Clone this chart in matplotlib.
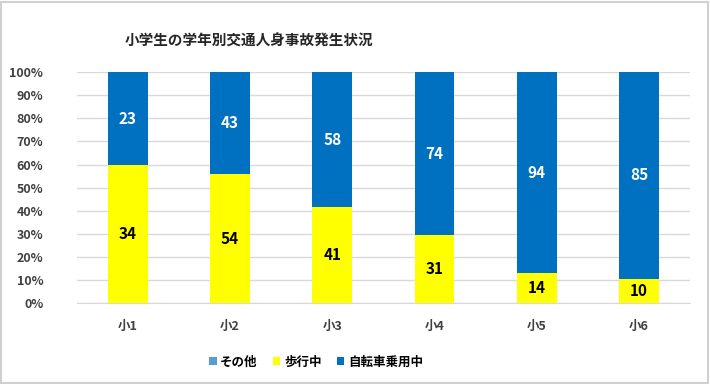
import numpy as np
import matplotlib
matplotlib.use("Agg")
import matplotlib.pyplot as plt
from matplotlib.patches import Rectangle
from matplotlib.ticker import PercentFormatter

plt.rcParams['font.family'] = ['Noto Sans CJK JP', 'DejaVu Sans']

# data
grades = ['小1', '小2', '小3', '小4', '小5', '小6']
other = [0, 0, 0, 0, 0, 0]
walking = [34, 54, 41, 31, 14, 10]
cycling = [23, 43, 58, 74, 94, 85]

series_names = ['その他', '歩行中', '自転車乗用中']
colors = ['#5B9BD5', '#FFFF00', '#0070C0']
label_colors = ['white', 'black', 'white']

fig = plt.figure(figsize=(7.1, 3.84), dpi=100)
ax = fig.add_axes([0.108, 0.211, 0.864, 0.601])

values = np.array([other, walking, cycling], dtype=float)
totals = values.sum(axis=0)
shares = values / totals

x = np.arange(len(grades))
bottom = np.zeros(len(grades))
handles = []
for i, name in enumerate(series_names):
    bars = ax.bar(x, shares[i], 0.39, bottom=bottom, color=colors[i],
                  label=name, zorder=3)
    handles.append(bars)
    for j in range(len(grades)):
        if values[i][j] > 0:
            ax.text(x[j], bottom[j] + shares[i][j] / 2, f'{int(values[i][j])}',
                    ha='center', va='center', fontsize=11, fontweight='bold',
                    color=label_colors[i], zorder=4)
    bottom += shares[i]

ax.set_ylim(0, 1)
ax.set_xlim(-0.5, len(grades) - 0.5)
ax.set_yticks(np.arange(0, 1.01, 0.1))
ax.yaxis.set_major_formatter(PercentFormatter(1.0, decimals=0))
ax.set_xticks(x)
ax.set_xticklabels(grades)
ax.grid(axis='y', color='#d9d9d9', linewidth=1, zorder=0)
for s in ['top', 'right', 'left']:
    ax.spines[s].set_visible(False)
ax.spines['bottom'].set_color('#d9d9d9')
ax.tick_params(axis='both', length=0, labelsize=9, colors='#404040')
ax.tick_params(axis='x', pad=12)
ax.tick_params(axis='y', pad=24)
for lab in ax.get_xticklabels() + ax.get_yticklabels():
    lab.set_fontweight('bold')

fig.text(0.351, 0.893, '小学生の学年別交通人身事故発生状況', ha='center', va='center',
         fontsize=10.5, fontweight='bold', color='#262626')

fig.legend(handles=handles, labels=series_names, loc='center',
           bbox_to_anchor=(0.445, 0.057), ncol=3, frameon=False,
           handlelength=0.6, handleheight=0.6, handletextpad=0.3,
           columnspacing=1.2, prop={'size': 9, 'weight': 'bold'})

fig.patches.append(Rectangle((0.002, 0.003), 0.995, 0.993, transform=fig.transFigure,
                             fill=False, edgecolor='#d0d0d0', linewidth=1.5))

fig.savefig('out.png', dpi=100)
